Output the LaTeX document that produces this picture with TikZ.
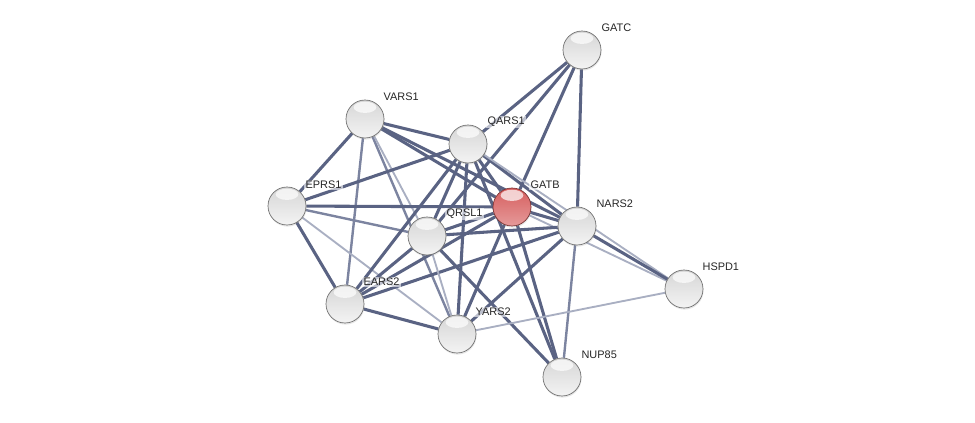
\documentclass[tikz,border=0pt]{standalone}
\usepackage{fontspec}
\setmainfont{Liberation Sans}
\usetikzlibrary{backgrounds,shadows}
\begin{document}
\begin{tikzpicture}[x=0.75pt,y=-0.75pt,font=\fontsize{8.2}{10}\selectfont]
\definecolor{edge}{HTML}{5A6383}\definecolor{edgeii}{HTML}{7C84A0}
\definecolor{edgeiii}{HTML}{A9AFC2}
\definecolor{orbgray}{HTML}{C4C4C4}\definecolor{orbred}{HTML}{D45656}
\tikzset{ball/.style={circle,minimum size=28.5pt,inner sep=0pt,draw=gray!85!black,line width=0.5pt,
    top color=orbgray!70!white,middle color=orbgray,bottom color=orbgray!20!white,
    drop shadow={opacity=0.2,shadow xshift=0.4pt,shadow yshift=-1.2pt},
    path picture={\fill[white,fill opacity=0.7] ([yshift=-5.5pt]path picture bounding box.north) ellipse (8.5pt and 4.2pt);}},
  hit/.style={ball,draw=orbred!55!black,top color=orbred!95!white,middle color=orbred,bottom color=orbred!60!white},
  lbl/.style={anchor=west,inner sep=1pt,fill=white,fill opacity=0.6,text opacity=1,text=black!85},
  link/.style={draw=edge,line width=2.3pt},
  mid/.style={draw=edgeii,line width=1.8pt},
  weak/.style={draw=edgeiii,line width=1.4pt}}
\useasboundingbox (0,0) rectangle (975,422);
\node[ball] (gatc) at (582,50) {};
\node[lbl] (gatc-l) at (600,28) {GATC};
\node[ball] (vars1) at (365,119) {};
\node[lbl] (vars1-l) at (382,97) {VARS1};
\node[ball] (qars1) at (468,144) {};
\node[lbl] (qars1-l) at (486,122) {QARS1};
\node[ball] (eprs1) at (287,206) {};
\node[lbl] (eprs1-l) at (304,185) {EPRS1};
\node[hit] (gatb) at (512,207) {};
\node[lbl] (gatb-l) at (529,185) {GATB};
\node[ball] (nars2) at (577,226) {};
\node[lbl] (nars2-l) at (595,204) {NARS2};
\node[ball] (qrsl1) at (427,236) {};
\node[lbl] (qrsl1-l) at (445,214) {QRSL1};
\node[ball] (hspd1) at (684,289) {};
\node[lbl] (hspd1-l) at (701,267) {HSPD1};
\node[ball] (ears2) at (345,304) {};
\node[lbl] (ears2-l) at (362,282) {EARS2};
\node[ball] (yars2) at (457,334) {};
\node[lbl] (yars2-l) at (474,312) {YARS2};
\node[ball] (nup85) at (562,377) {};
\node[lbl] (nup85-l) at (580,355) {NUP85};
\begin{scope}[on background layer]
\draw[link] (gatc) -- (qars1);
\draw[link] (gatc) -- (qrsl1);
\draw[link] (gatc) -- (gatb);
\draw[link] (gatc) -- (nars2);
\draw[link] (vars1) -- (eprs1);
\draw[link] (vars1) -- (qars1);
\draw[link] (vars1) -- (gatb);
\draw[link] (vars1) -- (nars2);
\draw[mid] (vars1) -- (ears2);
\draw[mid] (vars1) -- (yars2);
\draw[weak] (vars1) -- (qrsl1);
\draw[link] (eprs1) -- (qars1);
\draw[link] (eprs1) -- (gatb);
\draw[mid] (eprs1) -- (qrsl1);
\draw[link] (eprs1) -- (ears2);
\draw[weak] (eprs1) -- (yars2);
\draw[link] (qars1) -- (gatb);
\draw[link] (qars1) -- (nars2);
\draw[link] (qars1) -- (qrsl1);
\draw[link] (qars1) -- (ears2);
\draw[link] (qars1) -- (yars2);
\draw[link] (qars1) -- (nup85);
\draw[weak] (qars1) -- (hspd1);
\draw[link] (gatb) -- (nars2);
\draw[link] (gatb) -- (qrsl1);
\draw[link] (gatb) -- (ears2);
\draw[link] (gatb) -- (yars2);
\draw[link] (gatb) -- (nup85);
\draw[weak] (gatb) -- (hspd1);
\draw[link] (nars2) -- (qrsl1);
\draw[link] (nars2) -- (ears2);
\draw[link] (nars2) -- (yars2);
\draw[mid] (nars2) -- (nup85);
\draw[link] (nars2) -- (hspd1);
\draw[link] (qrsl1) -- (ears2);
\draw[weak] (qrsl1) -- (yars2);
\draw[link] (qrsl1) -- (nup85);
\draw[link] (ears2) -- (yars2);
\draw[weak] (yars2) -- (hspd1);
\end{scope}
\end{tikzpicture}
\end{document}
